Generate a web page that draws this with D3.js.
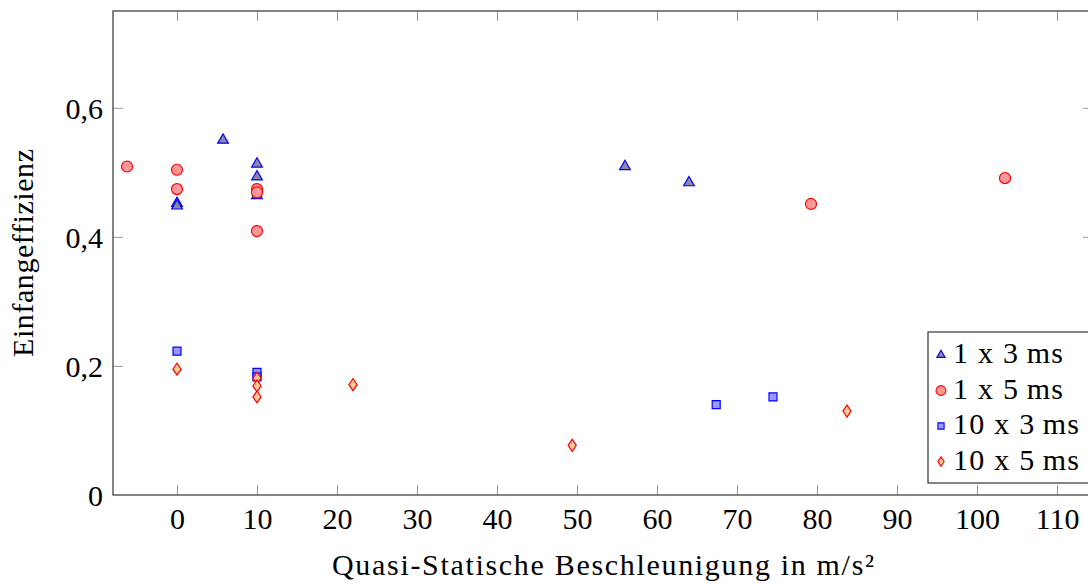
<!DOCTYPE html>
<meta charset="utf-8">
<style>
body { margin: 0; background: #fff; }
text { font-family: "Liberation Serif", "DejaVu Serif", serif; fill: #000; }
.tick line { stroke: #999; }
</style>
<svg width="1088" height="584"></svg>
<script src="https://d3js.org/d3.v7.min.js"></script>
<script>
// series: 1 x 3 ms (triangles)
const s1x = [0, 0, 5.75, 10, 10, 10, 56, 64];
const s1y = [0.452, 0.448, 0.550, 0.513, 0.493, 0.464, 0.509, 0.484];
// 1 x 5 ms (circles)
const s2x = [-6.25, 0, 0, 10, 10, 10, 79.25, 103.5];
const s2y = [0.509, 0.504, 0.474, 0.474, 0.469, 0.409, 0.451, 0.491];
// 10 x 3 ms (squares)
const s3x = [0, 10, 10, 67.4, 74.5];
const s3y = [0.223, 0.190, 0.183, 0.140, 0.152];
// 10 x 5 ms (diamonds)
const s4x = [0, 10, 10, 10, 22, 49.4, 83.75];
const s4y = [0.195, 0.181, 0.169, 0.152, 0.171, 0.077, 0.130];

const seriesNames = ["1 x 3\u2009ms", "1 x 5\u2009ms", "10 x 3\u2009ms", "10 x 5\u2009ms"];
const xTicks = [0, 10, 20, 30, 40, 50, 60, 70, 80, 90, 100, 110];
const yTicks = [0, 0.2, 0.4, 0.6];

const svg = d3.select("svg");
const pLeft = 113, pRight = 1093, pTop = 11, pBottom = 495;

const x = d3.scaleLinear().domain([-8, 114.5]).range([pLeft, pRight]);
const y = d3.scaleLinear().domain([0, 0.75]).range([pBottom, pTop]);

// tall diamond like the pgfplots one
const tallDiamond = {
  draw(ctx, size) {
    const h = Math.sqrt(size) * 0.95, w = h * 0.68;
    ctx.moveTo(0, -h); ctx.lineTo(w, 0); ctx.lineTo(0, h); ctx.lineTo(-w, 0); ctx.closePath();
  }
};

const styles = [
  {sym: d3.symbolTriangle, size: 50, fill: "#8a8a9a", stroke: "#0000ff"},
  {sym: d3.symbolCircle, size: 95, fill: "#ff9999", stroke: "#ff0000"},
  {sym: d3.symbolSquare, size: 64, fill: "#9999ff", stroke: "#0000ff"},
  {sym: tallDiamond, size: 40, fill: "#ffcc99", stroke: "#ff0000"}
];

// axes with inward ticks
const fmt = d => d === 0 ? "0" : d3.format(".1f")(d).replace(".", ",");

const gx = svg.append("g").attr("transform", `translate(0,${pBottom})`)
  .call(d3.axisBottom(x).tickValues(xTicks).tickSize(-10).tickPadding(11).tickFormat(d3.format("d")));
const gxt = svg.append("g").attr("transform", `translate(0,${pTop})`)
  .call(d3.axisTop(x).tickValues(xTicks).tickSize(-10).tickFormat(""));
const gy = svg.append("g").attr("transform", `translate(${pLeft},0)`)
  .call(d3.axisLeft(y).tickValues(yTicks).tickSize(-10).tickPadding(10).tickFormat(fmt));
const gyr = svg.append("g").attr("transform", `translate(${pRight},0)`)
  .call(d3.axisRight(y).tickValues(yTicks).tickSize(-10).tickFormat(""));

[gx, gxt, gy, gyr].forEach(g => {
  g.select(".domain").remove();
  g.selectAll("text").style("font-size", "30px").attr("fill", "#000");
});
// drop tick marks lying on the frame
gy.selectAll(".tick").filter(d => d === 0).select("line").remove();
gyr.selectAll(".tick").filter(d => d === 0).select("line").remove();
gx.selectAll("text").attr("dy", "0.75em");
gy.selectAll("text").attr("dy", "0.35em");

svg.append("rect")
  .attr("x", pLeft).attr("y", pTop)
  .attr("width", pRight - pLeft).attr("height", pBottom - pTop)
  .attr("fill", "none").attr("stroke", "#333").attr("stroke-width", 1.2);

// data points
const allX = [s1x, s2x, s3x, s4x], allY = [s1y, s2y, s3y, s4y];
allX.forEach((xs, i) => {
  const st = styles[i];
  const pts = xs.map((v, j) => [v, allY[i][j]]);
  svg.append("g").selectAll("path").data(pts).enter().append("path")
    .attr("transform", d => `translate(${x(d[0])},${y(d[1])})`)
    .attr("d", d3.symbol().type(st.sym).size(st.size))
    .attr("fill", st.fill).attr("stroke", st.stroke)
    .attr("stroke-width", 1.2);
});

// legend
const lg = svg.append("g").attr("transform", "translate(928,332)");
lg.append("rect").attr("width", 170).attr("height", 151)
  .attr("fill", "#fff").attr("stroke", "#333").attr("stroke-width", 1.2);
const legendWidths = [110, 110, 126, 126];
seriesNames.forEach((name, i) => {
  const st = styles[i];
  const base = 31 + i * 35.5;
  lg.append("path")
    .attr("transform", `translate(13,${base - 8})`)
    .attr("d", d3.symbol().type(st.sym).size(st.size * (i === 1 ? 0.8 : 0.6)))
    .attr("fill", st.fill).attr("stroke", st.stroke).attr("stroke-width", 1.1);
  lg.append("text").attr("x", 25).attr("y", base)
    .attr("textLength", legendWidths[i]).attr("lengthAdjust", "spacing")
    .style("font-size", "30px").text(name);
});

// axis labels
svg.append("text")
  .attr("x", (pLeft + pRight) / 2).attr("y", 575)
  .attr("text-anchor", "middle").style("font-size", "30px")
  .attr("textLength", 542).attr("lengthAdjust", "spacing")
  .text("Quasi-Statische Beschleunigung in m/s\u00B2");

svg.append("text")
  .attr("transform", `translate(33,${(pTop + pBottom) / 2}) rotate(-90)`)
  .attr("text-anchor", "middle").style("font-size", "30px")
  .attr("textLength", 208).attr("lengthAdjust", "spacing")
  .text("Einfangeffizienz");
</script>
